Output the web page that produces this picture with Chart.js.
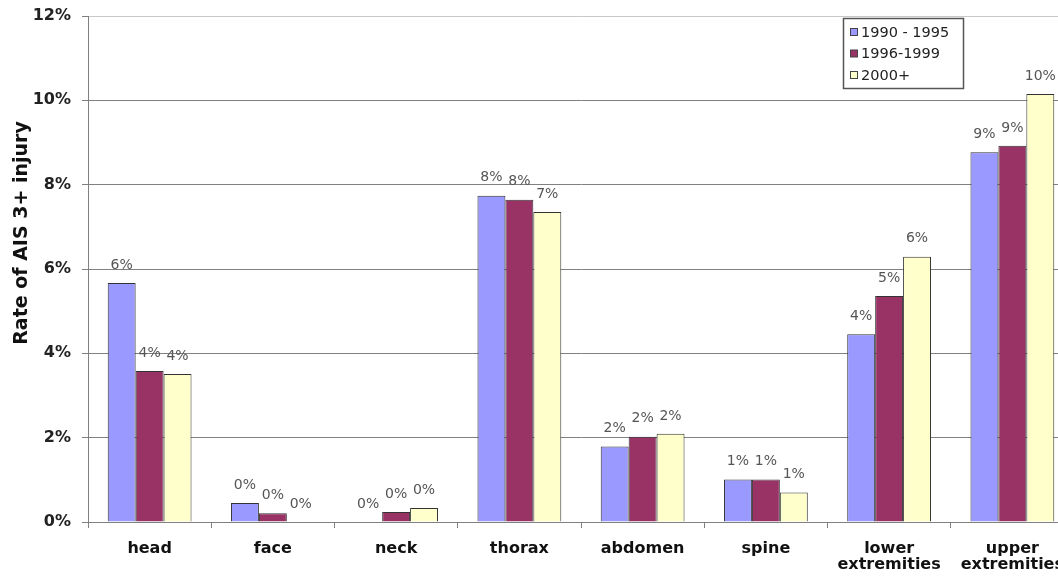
<!DOCTYPE html>
<html><head><meta charset="utf-8">
<script src="https://cdn.jsdelivr.net/npm/chart.js@4.4.1/dist/chart.umd.min.js"></script>
<style>
html,body{margin:0;padding:0;background:#fff;overflow:hidden;width:1058px;height:578px}
#wrap{position:absolute;left:0;top:0;width:1080px;height:578px}
</style>
</head><body>
<div id="wrap"><canvas id="c" width="1080" height="578"></canvas></div>
<script>
const categories = ['head', 'face', 'neck', 'thorax', 'abdomen', 'spine', ['lower', 'extremities'], ['upper', 'extremities']];
const seriesNames = ['1990 - 1995', '1996-1999', '2000+'];
const s1990_1995 = [5.67, 0.45, 0.00, 7.74, 1.79, 1.01, 4.45, 8.77];
const s1996_1999 = [3.58, 0.21, 0.24, 7.64, 2.02, 1.01, 5.36, 8.92];
const s2000plus  = [3.51, 0.00, 0.33, 7.35, 2.09, 0.70, 6.29, 10.15];
const yTitle = 'Rate of AIS 3+ injury';
const yMin = 0, yMax = 12, yStep = 2;

const colors = ['#9999FF', '#993366', '#FFFFCC'];
const FONT = '"DejaVu Sans", Verdana, sans-serif';

const labelPlugin = {
  id: 'barLabels',
  afterDatasetsDraw(chart) {
    const ctx = chart.ctx;
    ctx.save();
    ctx.font = '14px ' + FONT;
    ctx.fillStyle = '#555555';
    ctx.textAlign = 'center';
    ctx.textBaseline = 'middle';
    chart.data.datasets.forEach((ds, i) => {
      const meta = chart.getDatasetMeta(i);
      meta.data.forEach((el, j) => {
        const v = ds.data[j];
        ctx.fillText(Math.round(v) + '%', el.x, el.y - 18);
      });
    });
    ctx.restore();
  }
};

const legendPlugin = {
  id: 'boxLegend',
  afterDraw(chart) {
    const ctx = chart.ctx;
    ctx.save();
    const bx = 843.5, by = 18.5, bw = 120, bh = 70;
    ctx.fillStyle = '#fff';
    ctx.fillRect(bx, by, bw, bh);
    ctx.strokeStyle = '#555';
    ctx.lineWidth = 1.5;
    ctx.strokeRect(bx, by, bw, bh);
    ctx.font = '14.5px ' + FONT;
    ctx.textBaseline = 'middle';
    ctx.textAlign = 'left';
    chart.data.datasets.forEach((ds, i) => {
      const cy = 32 + i * 21.5;
      ctx.fillStyle = ds.backgroundColor;
      ctx.fillRect(850.5, cy - 3.5, 7, 7);
      ctx.strokeStyle = '#444';
      ctx.lineWidth = 1;
      ctx.strokeRect(850.5, cy - 3.5, 7, 7);
      ctx.fillStyle = '#222';
      ctx.fillText(ds.label, 861, cy + 1);
    });
    // y axis title
    ctx.save();
    ctx.translate(22, 233);
    ctx.rotate(-Math.PI / 2);
    ctx.font = 'bold 19px ' + FONT;
    ctx.fillStyle = '#111';
    ctx.textAlign = 'center';
    ctx.textBaseline = 'middle';
    ctx.fillText(yTitle, 0, 0);
    ctx.restore();
    ctx.restore();
  }
};

const seriesData = [s1990_1995, s1996_1999, s2000plus];

new Chart(document.getElementById('c'), {
  type: 'bar',
  data: {
    labels: categories,
    datasets: seriesData.map((d, i) => ({
      label: seriesNames[i],
      data: d,
      backgroundColor: colors[i],
      borderColor: '#333333',
      borderWidth: 1,
      categoryPercentage: 0.68,
      barPercentage: 1.0
    }))
  },
  options: {
    responsive: false,
    animation: false,
    devicePixelRatio: 1,
    layout: { padding: { top: 16, right: 6, left: 0, bottom: 0 } },
    plugins: { legend: { display: false }, tooltip: { enabled: false } },
    scales: {
      x: {
        afterFit(s) { s.height = 56; s.paddingLeft = 0; s.paddingRight = 0; },
        grid: { offset: true, drawOnChartArea: false, tickLength: 6, color: '#808080' },
        border: { display: true, color: '#808080', width: 1 },
        ticks: { color: '#111', font: { family: FONT, size: 16, weight: 'bold', lineHeight: 1.05 }, padding: 12, maxRotation: 0, autoSkip: false }
      },
      y: {
        min: yMin, max: yMax,
        afterFit(s) { s.width = 88; s.paddingTop = 0; s.paddingBottom = 0; },
        grid: {
          color: (c) => (c.tick && c.tick.value === yMax) ? '#c8c8c8' : '#808080',
          tickColor: '#808080',
          tickLength: 6, lineWidth: 1
        },
        border: { display: true, color: '#808080', width: 1 },
        ticks: {
          stepSize: yStep,
          color: '#222',
          padding: 11,
          font: { family: FONT, size: 16, weight: 'bold' },
          callback: (v) => v + '%'
        }
      }
    }
  },
  plugins: [labelPlugin, legendPlugin]
});
</script>
</body></html>
